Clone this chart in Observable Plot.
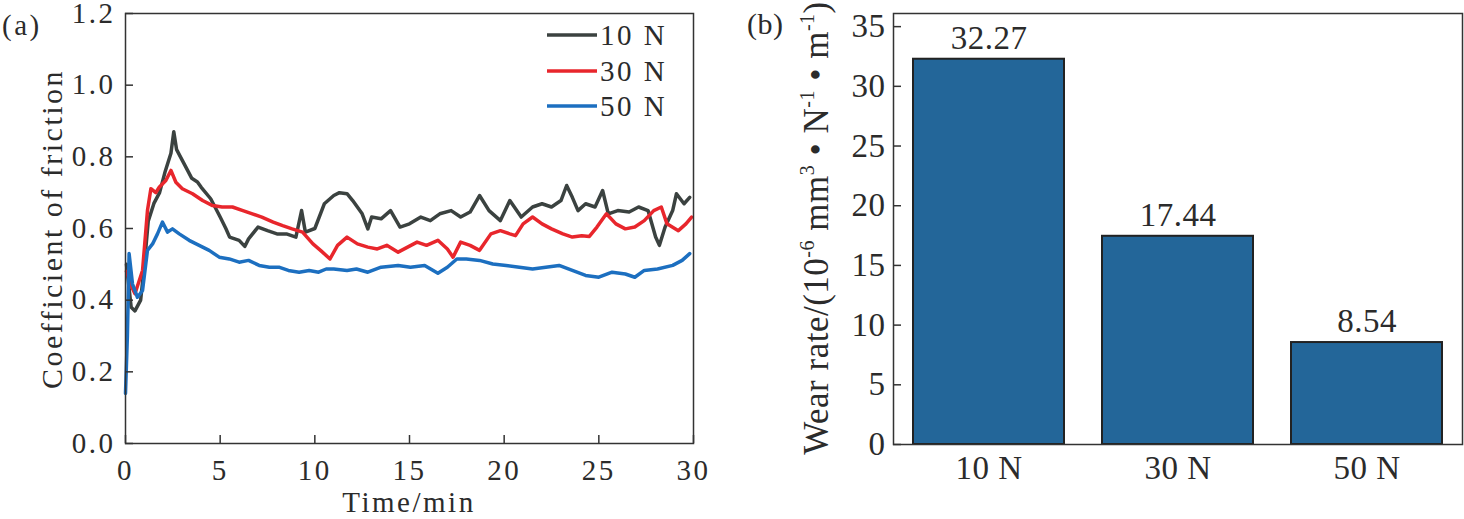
<!DOCTYPE html>
<html>
<head>
<meta charset="utf-8">
<script src="https://cdn.jsdelivr.net/npm/d3@7"></script>
<script src="https://cdn.jsdelivr.net/npm/@observablehq/plot@0.6"></script>
<style>
  body { margin: 0; background: #fff; }
  #wrap { display: flex; width: 1464px; height: 519px; overflow: hidden; }
  svg text { fill: #2b2b2b; }
</style>
</head>
<body>
<div id="wrap"></div>
<script>
// ---------- data ----------
const loads = ["10 N", "30 N", "50 N"];
const wearRates = [32.27, 17.44, 8.54];
const lineColors = ["#3b4240", "#e8262c", "#1c6fc0"];
const barColor = "#236699";

const xTicksA = [0, 5, 10, 15, 20, 25, 30];
const yTicksA = [0, 0.2, 0.4, 0.6, 0.8, 1.0, 1.2];
const yTicksB = [0, 5, 10, 15, 20, 25, 30, 35];

// 10 N friction curve (time in min, coefficient)
const time10 = [0.05, 0.3, 0.5, 0.8, 1.0, 1.2, 1.5, 1.8, 2.1, 2.4, 2.55, 2.7, 3.0, 3.3, 3.5, 3.8, 4.0, 4.5, 5.0, 5.3, 5.5, 6.0, 6.3, 6.5, 7.0, 7.5, 8.0, 8.5, 9.0, 9.3, 9.5, 10.0, 10.5, 11.0, 11.3, 11.7, 12.0, 12.5, 12.8, 13.0, 13.5, 14.0, 14.5, 15.0, 15.6, 16.1, 16.6, 17.2, 17.7, 18.2, 18.7, 19.2, 19.8, 20.3, 20.9, 21.5, 22.0, 22.5, 23.0, 23.3, 23.6, 23.9, 24.3, 24.8, 25.2, 25.5, 26.0, 26.6, 27.1, 27.6, 28.0, 28.2, 28.5, 28.9, 29.1, 29.5, 29.8];
const cof10 = [0.50, 0.38, 0.37, 0.40, 0.50, 0.62, 0.67, 0.70, 0.76, 0.81, 0.87, 0.82, 0.79, 0.76, 0.74, 0.73, 0.715, 0.683, 0.632, 0.60, 0.576, 0.567, 0.55, 0.571, 0.604, 0.594, 0.585, 0.585, 0.576, 0.65, 0.59, 0.60, 0.669, 0.692, 0.70, 0.697, 0.678, 0.641, 0.599, 0.632, 0.627, 0.65, 0.604, 0.613, 0.632, 0.622, 0.641, 0.65, 0.632, 0.646, 0.692, 0.65, 0.622, 0.678, 0.632, 0.66, 0.669, 0.66, 0.678, 0.72, 0.687, 0.65, 0.669, 0.66, 0.706, 0.641, 0.65, 0.646, 0.66, 0.65, 0.576, 0.553, 0.604, 0.65, 0.697, 0.669, 0.687];

// 30 N friction curve
const time30 = [0.05, 0.3, 0.5, 0.9, 1.16, 1.34, 1.6, 1.78, 2.13, 2.4, 2.66, 3.0, 3.54, 4.07, 4.6, 5.1, 5.65, 6.2, 6.7, 7.2, 7.8, 8.3, 8.8, 9.35, 9.9, 10.3, 10.8, 11.2, 11.7, 12.25, 12.8, 13.3, 13.8, 14.4, 14.9, 15.4, 15.9, 16.5, 17.0, 17.3, 17.7, 18.2, 18.7, 19.3, 19.8, 20.3, 20.6, 21.0, 21.5, 22.0, 22.5, 23.1, 23.6, 24.1, 24.5, 24.9, 25.4, 25.9, 26.4, 26.9, 27.4, 27.9, 28.3, 28.6, 29.2, 29.6, 29.9];
const cof30 = [0.48, 0.44, 0.418, 0.483, 0.65, 0.711, 0.70, 0.715, 0.734, 0.762, 0.729, 0.711, 0.697, 0.678, 0.664, 0.66, 0.66, 0.65, 0.641, 0.632, 0.618, 0.608, 0.599, 0.59, 0.557, 0.539, 0.515, 0.553, 0.576, 0.557, 0.548, 0.543, 0.553, 0.534, 0.548, 0.562, 0.553, 0.567, 0.543, 0.52, 0.562, 0.553, 0.539, 0.585, 0.594, 0.585, 0.58, 0.613, 0.632, 0.613, 0.599, 0.585, 0.576, 0.58, 0.578, 0.604, 0.641, 0.613, 0.599, 0.604, 0.622, 0.65, 0.66, 0.613, 0.594, 0.613, 0.632];

// 50 N friction curve
const time50 = [0.0, 0.1, 0.19, 0.37, 0.63, 0.9, 1.16, 1.43, 1.69, 1.95, 2.22, 2.48, 2.84, 3.36, 3.89, 4.42, 4.95, 5.48, 6.0, 6.5, 7.06, 7.6, 8.1, 8.6, 9.17, 9.7, 10.2, 10.6, 11.0, 11.7, 12.2, 12.8, 13.5, 14.4, 15.05, 15.8, 16.5, 17.0, 17.5, 18.0, 18.7, 19.4, 20.1, 20.8, 21.5, 22.2, 22.9, 23.6, 24.3, 25.0, 25.7, 26.4, 26.9, 27.4, 28.1, 28.9, 29.4, 29.8];
const cof50 = [0.14, 0.30, 0.53, 0.445, 0.408, 0.427, 0.539, 0.557, 0.585, 0.618, 0.59, 0.599, 0.585, 0.567, 0.553, 0.539, 0.52, 0.515, 0.506, 0.511, 0.497, 0.492, 0.492, 0.483, 0.478, 0.483, 0.478, 0.487, 0.487, 0.483, 0.487, 0.478, 0.492, 0.497, 0.492, 0.497, 0.475, 0.492, 0.515, 0.515, 0.511, 0.501, 0.497, 0.492, 0.487, 0.492, 0.497, 0.483, 0.469, 0.464, 0.478, 0.473, 0.464, 0.483, 0.487, 0.497, 0.511, 0.53];

// ---------- tables ----------
const frictionRows = [];
[[time10, cof10, loads[0]], [time30, cof30, loads[1]], [time50, cof50, loads[2]]]
  .forEach(([ts, vs, load]) => ts.forEach((t, i) => frictionRows.push({t, cof: vs[i], load})));
const barRows = loads.map((load, i) => ({load, rate: wearRates[i]}));

const serif = '"Liberation Serif", "Times New Roman", serif';

// ---------- panel (a) ----------
const plotA = Plot.plot({
  width: 730, height: 519,
  marginLeft: 125, marginRight: 37, marginTop: 13, marginBottom: 76,
  style: {fontFamily: serif, fontSize: "29px", color: "#2b2b2b", background: "#fff", letterSpacing: "2.5px", overflow: "visible"},
  x: {domain: [0, 30]},
  y: {domain: [0, 1.2]},
  color: {domain: loads, range: lineColors},
  marks: [
    Plot.line(frictionRows, {x: "t", y: "cof", z: "load", stroke: "load", strokeWidth: 3.5, strokeLinejoin: "round"}),
    Plot.frame({stroke: "#333", strokeWidth: 1.5}),
    Plot.axisX({ticks: xTicksA, tickSize: -8, tickPadding: 24, label: null, color: "#333", strokeWidth: 1.5}),
    Plot.axisY({ticks: yTicksA, tickSize: -8, tickPadding: 18, tickFormat: d3.format(".1f"), label: null, color: "#333", strokeWidth: 1.5})
  ]
});

{
  const svg = d3.select(plotA);
  svg.append("text").attr("x", 2).attr("y", 35).attr("text-anchor", "start").attr("font-size", 29).text("(a)");
  svg.append("text")
    .attr("transform", "translate(62,229) rotate(-90)")
    .attr("text-anchor", "middle").attr("font-size", 30)
    .text("Coefficient of friction");
  svg.append("text").attr("x", 409).attr("y", 512).attr("text-anchor", "middle")
    .attr("font-size", 29).text("Time/min");
  const legendY = [35, 71, 106];
  loads.forEach((l, i) => {
    svg.append("line").attr("x1", 547).attr("x2", 597).attr("y1", legendY[i]).attr("y2", legendY[i])
      .attr("stroke", lineColors[i]).attr("stroke-width", 3.5);
    svg.append("text").attr("x", 600).attr("y", legendY[i]).attr("dy", "0.34em")
      .attr("text-anchor", "start").attr("font-size", 29).text(l);
  });
}

// ---------- panel (b) ----------
const plotB = Plot.plot({
  width: 734, height: 519,
  marginLeft: 163, marginRight: 2, marginTop: 13, marginBottom: 75,
  style: {fontFamily: serif, fontSize: "33px", color: "#2b2b2b", background: "#fff", letterSpacing: "0.5px", overflow: "visible"},
  x: {domain: loads, paddingInner: 0.2, paddingOuter: 0.1},
  y: {domain: [0, 36.1]},
  marks: [
    Plot.barY(barRows, {x: "load", y: "rate", fill: barColor, stroke: "#222", strokeWidth: 2}),
    Plot.text(barRows, {x: "load", y: "rate", text: d => d.rate.toFixed(2), dy: -21, fontSize: 33, fill: "#2b2b2b"}),
    Plot.frame({stroke: "#333", strokeWidth: 1.5}),
    Plot.axisX({tickSize: 0, tickPadding: 11, label: null, color: "#333"}),
    Plot.axisY({ticks: yTicksB, tickSize: -8, tickPadding: 16, label: null, color: "#333", strokeWidth: 1.5})
  ]
});

{
  const svg = d3.select(plotB);
  svg.append("text").attr("x", 17).attr("y", 34).attr("text-anchor", "start").attr("font-size", 30).text("(b)");
  const t = svg.append("text")
    .attr("transform", "translate(98,228) rotate(-90)")
    .attr("text-anchor", "middle").attr("font-size", 35);
  const parts = [["Wear rate/(10", 0], ["-6", 1], [" mm", 0], ["3", 1], [" \u2022 N", 0], ["-1", 1], [" \u2022 m", 0], ["-1", 1], [")", 0]];
  let up = false;
  parts.forEach(([s, sup]) => {
    const ts = t.append("tspan").text(s);
    if (sup) { ts.attr("font-size", 20).attr("dy", -14); up = true; }
    else if (up) { ts.attr("dy", 14); up = false; }
  });
}

const wrap = document.getElementById("wrap");
wrap.append(plotA, plotB);
</script>
</body>
</html>
